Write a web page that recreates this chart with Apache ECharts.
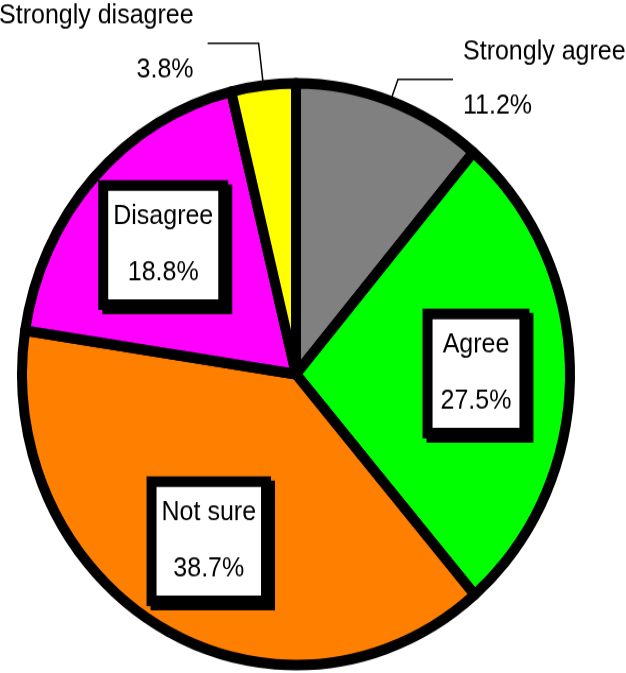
<!DOCTYPE html>
<html>
<head>
<meta charset="utf-8">
<script src="https://cdn.jsdelivr.net/npm/echarts@6/dist/echarts.min.js"></script>
<style>
  html, body { margin: 0; padding: 0; background: #fff; overflow: hidden; }
  #wrap { width: 626px; height: 673px; overflow: hidden; }
  /* the reference pie is slightly taller than wide: stretch vertically */
  #chart { width: 626px; height: 634px; transform: scaleY(1.0615); transform-origin: 0 0; }
</style>
</head>
<body>
<div id="wrap"><div id="chart"></div></div>
<script>
const categories = ['Strongly agree', 'Agree', 'Not sure', 'Disagree', 'Strongly disagree'];
const values = [11.2, 27.5, 38.7, 18.8, 3.8];
const colors = ['#808080', '#00ff00', '#ff8000', '#ff00ff', '#ffff00'];

const FONT = '"Liberation Sans", Arial, sans-serif';
const CX = 296, CY = 352.5, R = 274;

// which slices get boxed inside labels vs. outside leader labels
const insideIdx = [1, 2, 3];
const outsideStyle = {
  0: { length: 22, length2: 55, dist: 10 },
  4: { length: 40, length2: 51, dist: 14 }
};

const mainData = categories.map((name, i) => {
  const item = { name: name, value: values[i], itemStyle: { color: colors[i] } };
  if (outsideStyle[i]) {
    const s = outsideStyle[i];
    item.label = {
      show: true, position: 'outside', formatter: '{b}\n\n{c}%',
      fontSize: 25, lineHeight: 25.5, color: '#000', fontFamily: FONT,
      distanceToLabelLine: s.dist
    };
    item.labelLine = { show: true, length: s.length, length2: s.length2,
      lineStyle: { color: '#000', width: 1.5 } };
  } else {
    item.label = { show: false };
    item.labelLine = { show: false };
  }
  return item;
});

const overlayData = categories.map((name, i) => {
  const item = { name: name, value: values[i] };
  if (insideIdx.indexOf(i) >= 0) {
    item.label = {
      show: true, position: 'inside', formatter: '{b}\n\n{c}%',
      fontSize: 25, lineHeight: 26.4, color: '#000', fontFamily: FONT,
      backgroundColor: '#fff', borderColor: '#000', borderWidth: 10,
      padding: i === 1 ? [11.5, 8] : [11.5, 5],
      shadowColor: '#000', shadowOffsetX: 4, shadowOffsetY: 4, shadowBlur: 0,
      rotate: 0
    };
  } else {
    item.label = { show: false };
  }
  return item;
});

const chart = echarts.init(document.getElementById('chart'), null, { renderer: 'canvas' });
chart.setOption({
  animation: false,
  backgroundColor: '#fff',
  series: [
    {
      type: 'pie',
      center: [CX, CY],
      radius: R,
      startAngle: 90,
      clockwise: true,
      avoidLabelOverlap: false,
      silent: true,
      itemStyle: { borderColor: '#000', borderWidth: 10 },
      emphasis: { disabled: true },
      data: mainData
    },
    {
      type: 'pie',
      center: [CX, CY],
      radius: [0, 354],
      startAngle: 90,
      clockwise: true,
      avoidLabelOverlap: false,
      silent: true,
      z: 5,
      itemStyle: { color: 'rgba(0,0,0,0)', borderWidth: 0 },
      labelLine: { show: false },
      emphasis: { disabled: true },
      data: overlayData
    }
  ]
});
</script>
</body>
</html>
